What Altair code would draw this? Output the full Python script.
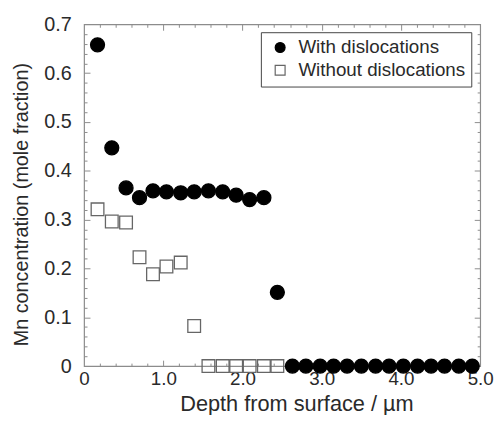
import altair as alt
import pandas as pd

# ---- data ----
depth = [0.17, 0.35, 0.53, 0.70, 0.87, 1.04, 1.22, 1.39, 1.57, 1.75, 1.92, 2.09, 2.27, 2.44,
         2.63, 2.80, 2.98, 3.15, 3.32, 3.50, 3.68, 3.85, 4.03, 4.21, 4.38, 4.55, 4.73, 4.90]
with_disl = [0.658, 0.447, 0.365, 0.345, 0.359, 0.357, 0.355, 0.357, 0.359, 0.357, 0.350, 0.341, 0.345, 0.151,
             0.0, 0.0, 0.0, 0.0, 0.0, 0.0, 0.0, 0.0, 0.0, 0.0, 0.0, 0.0, 0.0, 0.0]
depth_wo = [0.17, 0.35, 0.53, 0.70, 0.87, 1.04, 1.22, 1.39, 1.57, 1.75, 1.92, 2.09, 2.27, 2.44]
without_disl = [0.321, 0.296, 0.294, 0.223, 0.188, 0.204, 0.212, 0.082, 0.0, 0.0, 0.0, 0.0, 0.0, 0.0]

series_names = ["With dislocations", "Without dislocations"]

x_major_labels = [0, 1, 2, 3, 4, 5]
y_major_labels = [0, 0.1, 0.2, 0.3, 0.4, 0.5, 0.6, 0.7]
x_major_ticks = [1, 2, 3, 4]
y_major_ticks = [0.1, 0.2, 0.3, 0.4, 0.5, 0.6]
x_minor_ticks = [0.2, 0.4, 0.6, 0.8, 1.2, 1.4, 1.6, 1.8, 2.2, 2.4, 2.6, 2.8,
                 3.2, 3.4, 3.6, 3.8, 4.2, 4.4, 4.6, 4.8]
y_minor_ticks = [0.02, 0.04, 0.06, 0.08, 0.12, 0.14, 0.16, 0.18, 0.22, 0.24, 0.26, 0.28,
                 0.32, 0.34, 0.36, 0.38, 0.42, 0.44, 0.46, 0.48, 0.52, 0.54, 0.56, 0.58,
                 0.62, 0.64, 0.66, 0.68]

df_wo = pd.DataFrame({"depth": depth_wo, "conc": without_disl, "series": series_names[1]})
df_w = pd.DataFrame({"depth": depth, "conc": with_disl, "series": series_names[0]})

FONT = "Liberation Sans"
TXT = "#2a2a2a"
TICK = "#8c8c8c"

xscale = alt.Scale(domain=[0, 5], nice=False, zero=False)
yscale = alt.Scale(domain=[0, 0.7], nice=False, zero=False)

label_expr = "datum.value == 0 ? '0' : format(datum.value, '.1f')"

legend = alt.Legend(
    title=None, orient="none", legendX=179, legendY=8, padding=6,
    strokeColor="#444444", fillColor="white", labelFont=FONT, labelFontSize=19,
    labelColor=TXT, rowPadding=3, symbolSize=100, symbolOffset=4, labelOffset=9,
    symbolStrokeWidth=1.2, labelLimit=400,
)

x_main = alt.X("depth:Q", scale=xscale,
               axis=alt.Axis(values=x_major_labels, labelExpr=label_expr, ticks=False, tickSize=0,
                             domain=False, grid=False, labelFont=FONT, labelFontSize=19,
                             labelColor=TXT, labelPadding=4, labelFlush=False,
                             title="Depth from surface / µm", titleFont=FONT, titleFontSize=22,
                             titleFontWeight="normal", titleColor=TXT,
                             titleBaseline="alphabetic", titleAlign="center",
                             titleX=215, titleY=45))
y_main = alt.Y("conc:Q", scale=yscale,
               axis=alt.Axis(values=y_major_labels, labelExpr=label_expr, ticks=False, tickSize=0,
                             domain=False, grid=False, labelFont=FONT, labelFontSize=20,
                             labelColor=TXT, labelPadding=13, labelFlush=False,
                             title="Mn concentration (mole fraction)", titleFont=FONT,
                             titleFontSize=20, titleFontWeight="normal", titleColor=TXT,
                             titlePadding=12, titleY=182))

style_enc = dict(
    shape=alt.Shape("series:N", legend=legend,
                    scale=alt.Scale(domain=series_names, range=["circle", "square"])),
    fill=alt.Fill("series:N", legend=legend,
                  scale=alt.Scale(domain=series_names, range=["#000000", "transparent"])),
    stroke=alt.Stroke("series:N", legend=legend,
                      scale=alt.Scale(domain=series_names, range=["#000000", "#666666"])),
)

# squares (without dislocations) drawn first, circles on top
squares = alt.Chart(df_wo).mark_point(opacity=1, strokeWidth=1.3, size=165).encode(
    x=x_main, y=y_main, **style_enc)
circles = alt.Chart(df_w).mark_point(opacity=1, strokeWidth=1.3, size=200).encode(
    x=alt.X("depth:Q", scale=xscale, axis=None),
    y=alt.Y("conc:Q", scale=yscale, axis=None), **style_enc)


def tick_layer(x_orient, y_orient, xv, yv, length):
    common = dict(labels=False, domain=False, grid=False, title=None,
                  tickSize=length, offset=-length, tickColor=TICK, tickWidth=1)
    return alt.Chart(df_w).mark_point(opacity=0).encode(
        x=alt.X("depth:Q", scale=xscale, axis=alt.Axis(orient=x_orient, values=xv, **common)),
        y=alt.Y("conc:Q", scale=yscale, axis=alt.Axis(orient=y_orient, values=yv, **common)),
    )


chart = alt.layer(
    squares,
    circles,
    tick_layer("bottom", "left", x_major_ticks, y_major_ticks, 6),
    tick_layer("bottom", "left", x_minor_ticks, y_minor_ticks, 3),
    tick_layer("top", "right", x_major_ticks, y_major_ticks, 6),
    tick_layer("top", "right", x_minor_ticks, y_minor_ticks, 3),
).resolve_axis(
    x="independent", y="independent"
).properties(
    width=401, height=346,
    autosize=alt.AutoSizeParams(type="none"),
    padding={"left": 77, "top": 14, "right": 14, "bottom": 47},
).configure_view(
    stroke="#8c8c8c", strokeWidth=1.2
)

chart.save("out.html", embed_options={"renderer": "svg", "actions": False})
